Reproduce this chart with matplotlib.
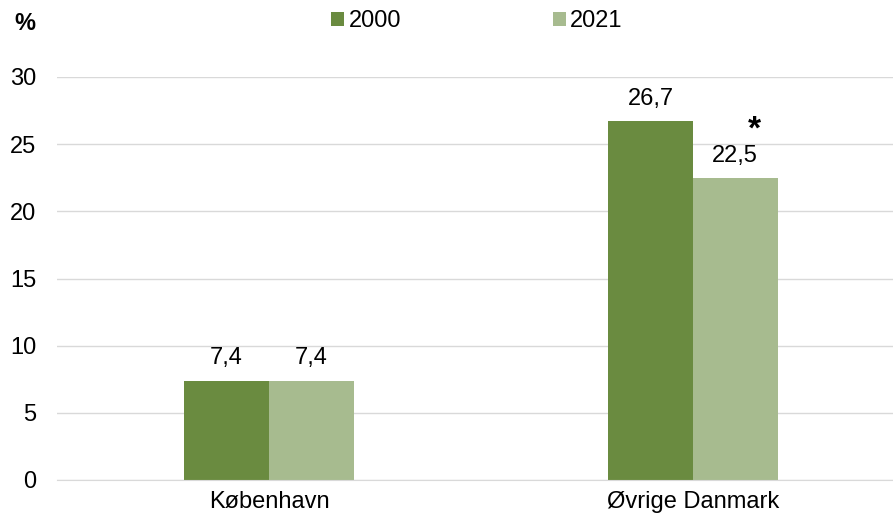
import matplotlib.pyplot as plt
import numpy as np

plt.rcParams['font.family'] = ['Liberation Sans', 'DejaVu Sans']

categories = ["København", "Øvrige Danmark"]
series_names = ["2000", "2021"]
values_2000 = [7.4, 26.7]
values_2021 = [7.4, 22.5]
yticks = [0, 5, 10, 15, 20, 25, 30]

c2000 = "#6A8B40"
c2021 = "#A7BB8F"
FS = 17

W, H = 893, 520
fig = plt.figure(figsize=(W/100, H/100), dpi=100)
ax = fig.add_axes([57/W, (H-480)/H, (893-57)/W, (480-77)/H])

x = np.arange(len(categories))
bw = 0.2
b1 = ax.bar(x - bw/2, values_2000, bw, color=c2000, label=series_names[0])
b2 = ax.bar(x + bw/2, values_2021, bw, color=c2021, label=series_names[1])

def fmt(v):
    return f"{v:.1f}".replace(".", ",")

for bars, vals in ((b1, values_2000), (b2, values_2021)):
    for rect, v in zip(bars, vals):
        ax.annotate(fmt(v), (rect.get_x() + rect.get_width()/2, v),
                    xytext=(0, 8), textcoords="offset points",
                    ha="center", va="bottom", fontsize=FS)

# asterisk marking 2021 Øvrige Danmark
ax.annotate("*", (x[1] + bw/2 + 0.045, values_2021[1]), xytext=(0, 23),
            textcoords="offset points", ha="center", va="bottom",
            fontsize=24, fontweight="bold")

ax.set_xlim(-0.5, 1.472)
ax.set_ylim(0, 30)
ax.set_yticks(yticks)
ax.set_yticklabels([str(t) for t in yticks], fontsize=FS)
ax.set_xticks(x)
ax.set_xticklabels(categories, fontsize=FS)
ax.tick_params(axis="both", length=0)
ax.tick_params(axis="y", pad=15)
ax.tick_params(axis="x", pad=8)
ax.yaxis.grid(True, color="#D9D9D9", linewidth=1)
ax.set_axisbelow(True)
for s in ["top", "right", "left"]:
    ax.spines[s].set_visible(False)
ax.spines["bottom"].set_color("#D9D9D9")

fig.text(14/W, 1 - 23/H, "%", fontsize=FS, fontweight="bold", ha="left", va="center")

leg = fig.legend(handles=[b1, b2], labels=series_names, loc="center",
                 bbox_to_anchor=(477/W, 1 - 21/H), ncol=2, frameon=False,
                 fontsize=FS, handlelength=0.55, handleheight=0.55,
                 handletextpad=0.2, columnspacing=6.4)

fig.savefig("out.png", dpi=100)
